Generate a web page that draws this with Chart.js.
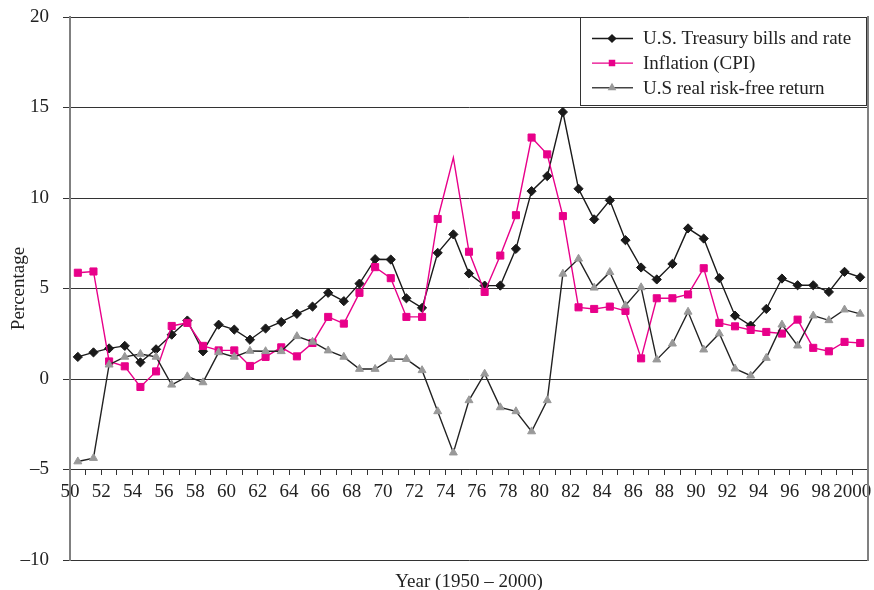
<!DOCTYPE html>
<html>
<head>
<meta charset="utf-8">
<script src="https://cdn.jsdelivr.net/npm/chart.js@4.4.1/dist/chart.umd.min.js"></script>
<style>
  html, body { margin: 0; padding: 0; background: #fff; }
  #wrap { width: 874px; height: 590px; }
</style>
</head>
<body>
<div id="wrap"><canvas id="chart" width="874" height="590"></canvas></div>
<script>
// Years covered by the series (one point per year)
const years = [1950, 1951, 1952, 1953, 1954, 1955, 1956, 1957, 1958, 1959,
               1960, 1961, 1962, 1963, 1964, 1965, 1966, 1967, 1968, 1969,
               1970, 1971, 1972, 1973, 1974, 1975, 1976, 1977, 1978, 1979,
               1980, 1981, 1982, 1983, 1984, 1985, 1986, 1987, 1988, 1989,
               1990, 1991, 1992, 1993, 1994, 1995, 1996, 1997, 1998, 1999, 2000];

// Annual rates, in percent
const treasuryBills = [1.22, 1.47, 1.69, 1.83, 0.92, 1.64, 2.45, 3.23, 1.53, 3.00,
                       2.73, 2.17, 2.79, 3.15, 3.60, 4.00, 4.76, 4.30, 5.27, 6.62,
                       6.60, 4.46, 3.93, 6.97, 7.99, 5.83, 5.16, 5.16, 7.19, 10.38,
                       11.21, 14.75, 10.51, 8.82, 9.87, 7.67, 6.16, 5.50, 6.36, 8.32,
                       7.76, 5.57, 3.50, 2.95, 3.87, 5.55, 5.18, 5.18, 4.81, 5.92, 5.62];

const inflationCPI = [5.87, 5.94, 0.97, 0.70, -0.44, 0.42, 2.93, 3.10, 1.83, 1.58,
                      1.58, 0.72, 1.22, 1.75, 1.25, 1.99, 3.43, 3.06, 4.76, 6.18,
                      5.57, 3.43, 3.43, 8.84, 12.23, 7.03, 4.81, 6.82, 9.05, 13.34,
                      12.41, 9.00, 3.96, 3.87, 4.00, 3.76, 1.14, 4.46, 4.46, 4.67,
                      6.12, 3.10, 2.91, 2.71, 2.60, 2.51, 3.28, 1.72, 1.53, 2.05, 1.99];

const realRiskFree = [-4.56, -4.37, 0.79, 1.22, 1.38, 1.22, -0.32, 0.14, -0.19, 1.47,
                      1.22, 1.55, 1.53, 1.53, 2.36, 2.05, 1.57, 1.22, 0.55, 0.55,
                      1.10, 1.10, 0.48, -1.79, -4.07, -1.18, 0.29, -1.57, -1.79, -2.90,
                      -1.18, 5.81, 6.64, 5.04, 5.90, 4.06, 5.06, 1.07, 1.95, 3.71,
                      1.62, 2.51, 0.57, 0.18, 1.16, 3.00, 1.84, 3.50, 3.24, 3.83, 3.60];

// Labels on the even-year ticks
const xTickLabels = ['50', '52', '54', '56', '58', '60', '62', '64', '66', '68',
                     '70', '72', '74', '76', '78', '80', '82', '84', '86', '88',
                     '90', '92', '94', '96', '98', '2000'];
const yTickValues = [-10, -5, 0, 5, 10, 15, 20];

const serif = "'Liberation Serif', 'Times New Roman', serif";

// each yearly value sits in the middle of its year interval
const toPoints = (vals) => vals.map((v, i) => ({ x: years[i] + 0.5, y: v }));

// Boxed legend in the top-right corner of the plot
const boxedLegend = {
  id: 'boxedLegend',
  afterDraw(chart) {
    const { ctx, chartArea } = chart;
    const w = 286, h = 88;
    const x0 = chartArea.right - 2 - w;
    const y0 = chartArea.top;
    ctx.save();
    ctx.fillStyle = '#fff';
    ctx.fillRect(x0, y0, w, h);
    ctx.strokeStyle = '#333';
    ctx.lineWidth = 1;
    ctx.strokeRect(Math.round(x0) + 0.5, Math.round(y0) + 0.5, w, h);
    ctx.font = '19px ' + serif;
    ctx.textBaseline = 'middle';
    ctx.textAlign = 'left';
    chart.data.datasets.forEach((ds, i) => {
      const cy = y0 + 21.5 + i * 24.6;
      ctx.strokeStyle = ds.legendLineColor || ds.borderColor;
      ctx.lineWidth = 1.4;
      ctx.beginPath();
      ctx.moveTo(x0 + 12, cy);
      ctx.lineTo(x0 + 53, cy);
      ctx.stroke();
      ctx.fillStyle = ds.pointBackgroundColor;
      ctx.strokeStyle = ds.pointBorderColor;
      Chart.helpers.drawPoint(ctx, { pointStyle: ds.pointStyle, radius: 3.6, borderWidth: 1, rotation: 0 }, x0 + 32, cy);
      ctx.fillStyle = '#222';
      ctx.fillText(ds.label, x0 + 63, cy + 1);
    });
    ctx.restore();
  }
};

new Chart(document.getElementById('chart'), {
  type: 'line',
  data: {
    datasets: [
      {
        label: 'U.S. Treasury bills and rate',
        data: toPoints(treasuryBills),
        borderColor: '#1a1a1a',
        borderWidth: 1.4,
        pointStyle: 'rectRot',
        pointRadius: 4.6,
        pointBackgroundColor: '#1a1a1a',
        pointBorderColor: '#1a1a1a',
        pointBorderWidth: 1,
        order: 3
      },
      {
        label: 'Inflation (CPI)',
        data: toPoints(inflationCPI),
        borderColor: '#e8008a',
        borderWidth: 1.4,
        pointStyle: 'rect',
        // the 1974 peak is drawn as a bare vertex
        pointRadius: (c) => (years[c.dataIndex] === 1974 ? 0 : 5),
        pointBackgroundColor: '#e8008a',
        pointBorderColor: '#e8008a',
        pointBorderWidth: 1,
        order: 2
      },
      {
        label: 'U.S real risk-free return',
        data: toPoints(realRiskFree),
        borderColor: '#222',
        legendLineColor: '#444',
        borderWidth: 1.4,
        pointStyle: 'triangle',
        pointRadius: 4.6,
        pointBackgroundColor: '#999',
        pointBorderColor: '#999',
        pointBorderWidth: 1,
        order: 1
      }
    ]
  },
  options: {
    responsive: false,
    animation: false,
    devicePixelRatio: 1,
    layout: { padding: { top: 17, right: 6, bottom: 0, left: 0 } },
    elements: { line: { tension: 0 } },
    plugins: {
      legend: { display: false },
      tooltip: { enabled: false }
    },
    scales: {
      x: {
        type: 'linear',
        position: { y: -5 },
        min: 1950,
        max: 2001,
        grid: { display: true, drawOnChartArea: false, drawTicks: true, tickLength: 5, color: '#333', lineWidth: 1 },
        border: { display: true, color: '#333', width: 1 },
        ticks: {
          stepSize: 1,
          autoSkip: false,
          maxRotation: 0,
          minRotation: 0,
          padding: 6,
          color: '#222',
          font: { family: serif, size: 19 },
          callback: (v) => {
            const k = v - 1950;
            return (k % 2 === 0 && k / 2 < xTickLabels.length) ? xTickLabels[k / 2] : '';
          }
        }
      },
      xTitle: {
        type: 'linear',
        axis: 'x',
        position: 'bottom',
        min: 1950,
        max: 2001,
        grid: { display: false },
        border: { display: false },
        ticks: { display: false },
        title: {
          display: true,
          text: 'Year (1950 – 2000)',
          color: '#222',
          font: { family: serif, size: 19, lineHeight: 0.8 },
          padding: { top: 0, bottom: 0 }
        },
        afterFit: (s) => { s.height = 30; }
      },
      y: {
        type: 'linear',
        position: 'left',
        min: -10,
        max: 20,
        afterBuildTicks: (s) => { s.ticks = yTickValues.map((v) => ({ value: v })); },
        grid: { color: '#333', lineWidth: 1, tickLength: 7, drawTicks: true },
        border: { display: true, color: '#808080', width: 2 },
        ticks: {
          padding: 14,
          color: '#222',
          font: { family: serif, size: 19 },
          callback: (v) => (v < 0 ? '\u2013' + Math.abs(v) : String(v))
        },
        title: {
          display: true,
          text: 'Percentage',
          color: '#222',
          font: { family: serif, size: 19 },
          padding: { top: 8, bottom: 0 }
        },
        afterFit: (s) => {
          s.width = 70;
          // end labels only need half their height above/below the plot
          s.paddingTop = 11;
          s.paddingBottom = 11;
        }
      },
      yRight: {
        type: 'linear',
        position: 'right',
        grid: { display: true, drawOnChartArea: false, drawTicks: false },
        border: { display: true, color: '#808080', width: 2 },
        ticks: { display: false },
        afterFit: (s) => { s.width = 0; }
      }
    }
  },
  plugins: [boxedLegend]
});
</script>
</body>
</html>
